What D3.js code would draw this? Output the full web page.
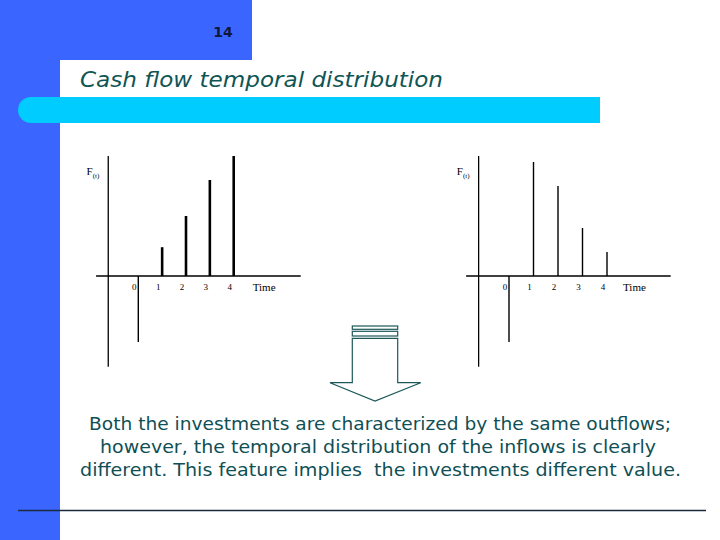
<!DOCTYPE html>
<html>
<head>
<meta charset="utf-8">
<script src="https://cdn.jsdelivr.net/npm/d3@7/dist/d3.min.js"></script>
<style>
  html, body { margin: 0; padding: 0; background: #fff; }
  svg { display: block; }
  text.body { white-space: pre; }
</style>
</head>
<body>
<svg id="chart" width="720" height="540"></svg>
<script>
// ---- data ----
const times = [0, 1, 2, 3, 4];
const tickLabels = ["0", "1", "2", "3", "4"];
const investmentA = [-2.75, 1.2, 2.5, 4, 5];     // growing inflows
const investmentB = [-2.75, 4.75, 3.75, 2, 1];   // declining inflows
const pageNumber = "14";
const titleText = "Cash flow temporal distribution";
const bodyLines = [
  "Both the investments are characterized by the same outflows;",
  "however, the temporal distribution of the inflows is clearly",
  "different. This feature implies  the investments different value."
];

const svg = d3.select("#chart");
const BLUE = "#3a66ff", CYAN = "#00ccff", TEAL = "#0f5555";

// ---- slide background ----
svg.append("rect").attr("x", 0).attr("y", 0).attr("width", 720).attr("height", 540).attr("fill", "#fff");
svg.append("rect").attr("x", 0).attr("y", 0).attr("width", 60).attr("height", 540).attr("fill", BLUE);
svg.append("rect").attr("x", 0).attr("y", 0).attr("width", 252).attr("height", 60).attr("fill", BLUE);
// rounded white corner
svg.append("path").attr("d", "M60,75 Q60,60 75,60 L100,60 L100,100 L60,100 Z").attr("fill", "#fff");
// cyan bar
svg.append("path").attr("d", "M31,97 L600,97 L600,123 L31,123 A13,13 0 0 1 31,97 Z").attr("fill", CYAN);

svg.append("text").attr("x", 223).attr("y", 37).attr("text-anchor", "middle")
  .attr("font-family", "DejaVu Sans, sans-serif").attr("font-weight", "bold").attr("font-size", 14)
  .attr("fill", "#10183a").text(pageNumber);

svg.append("text").attr("x", 80).attr("y", 87)
  .attr("font-family", "'Comic Sans MS', 'DejaVu Sans', sans-serif").attr("font-style", "italic")
  .attr("font-size", 21).attr("fill", TEAL)
  .attr("textLength", 363).attr("lengthAdjust", "spacingAndGlyphs").text(titleText);

// ---- charts ----
function drawChart(values, cfg) {
  const g = svg.append("g");
  const x = d3.scaleLinear().domain([0, 4]).range(cfg.xRange);
  const y = d3.scaleLinear().domain([0, 5]).range([276, 156]);
  // axes
  g.append("line").attr("x1", x(cfg.xAxisExtent[0])).attr("x2", x(cfg.xAxisExtent[1]))
    .attr("y1", y(0)).attr("y2", y(0)).attr("stroke", "#000").attr("stroke-width", 1.3);
  g.append("line").attr("x1", x(cfg.yAxisAt)).attr("x2", x(cfg.yAxisAt))
    .attr("y1", y(5)).attr("y2", y(-3.78)).attr("stroke", "#000").attr("stroke-width", 1.3);
  // flows
  g.selectAll("line.flow").data(times).join("line").attr("class", "flow")
    .attr("x1", d => x(d)).attr("x2", d => x(d))
    .attr("y1", y(0)).attr("y2", (d, i) => y(values[i]))
    .attr("stroke", "#000")
    .attr("stroke-width", (d, i) => values[i] > 0 ? cfg.posWidth : 1.4);
  // tick labels
  g.selectAll("text.tick").data(times).join("text").attr("class", "tick")
    .attr("x", d => x(d) - 4).attr("y", 290).attr("text-anchor", "middle")
    .attr("font-family", "'Liberation Serif', serif").attr("font-size", 9).attr("fill", "#000")
    .text((d, i) => tickLabels[i]);
  g.append("text").attr("x", x(4) + cfg.timeOffset).attr("y", 291)
    .attr("font-family", "'Liberation Serif', serif").attr("font-size", 11).attr("fill", "#000").text("Time");
  const f = g.append("text").attr("x", x(cfg.fAt)).attr("y", 175)
    .attr("font-family", "'Liberation Serif', serif").attr("font-size", 11).attr("fill", "#000");
  f.append("tspan").text("F");
  f.append("tspan").attr("font-size", 7).attr("dy", 3).text("(t)");
}

drawChart(investmentA, { xRange: [138.3, 233.7], xAxisExtent: [-1.77, 6.81], yAxisAt: -1.26, posWidth: 2.6, timeOffset: 19, fAt: -2.17 });
drawChart(investmentB, { xRange: [509, 607], xAxisExtent: [-1.75, 6.6], yAxisAt: -1.24, posWidth: 1.4, timeOffset: 16, fAt: -2.13 });

// ---- arrow ----
const ag = svg.append("g").attr("fill", "#fff").attr("stroke", "#1c5858").attr("stroke-width", 1.2);
ag.append("rect").attr("x", 352.3).attr("y", 326).attr("width", 45.4).attr("height", 3.3);
ag.append("rect").attr("x", 352.3).attr("y", 331.3).attr("width", 45.4).attr("height", 4.7);
ag.append("path").attr("d", "M352.3,338.3 L397.7,338.3 L397.7,382.7 L420.7,382.7 L375,401 L330,382.7 L352.3,382.7 Z");

// ---- body text ----
const lineY = [430, 453, 476];
const lineCx = [380, 378, 380.5];
const lineW = [582, 556, 601];
svg.selectAll("text.body").data(bodyLines).join("text").attr("class", "body")
  .attr("x", (d, i) => lineCx[i]).attr("y", (d, i) => lineY[i]).attr("text-anchor", "middle")
  .attr("font-family", "'Comic Sans MS', 'DejaVu Sans', sans-serif").attr("font-size", 18)
  .attr("fill", "#0f4f55")
  .attr("textLength", (d, i) => lineW[i]).attr("lengthAdjust", "spacingAndGlyphs")
  .text(d => d);

// bottom rule
svg.append("line").attr("x1", 18).attr("x2", 706).attr("y1", 510.5).attr("y2", 510.5)
  .attr("stroke", "#1b2b3f").attr("stroke-width", 1.3);
</script>
</body>
</html>
